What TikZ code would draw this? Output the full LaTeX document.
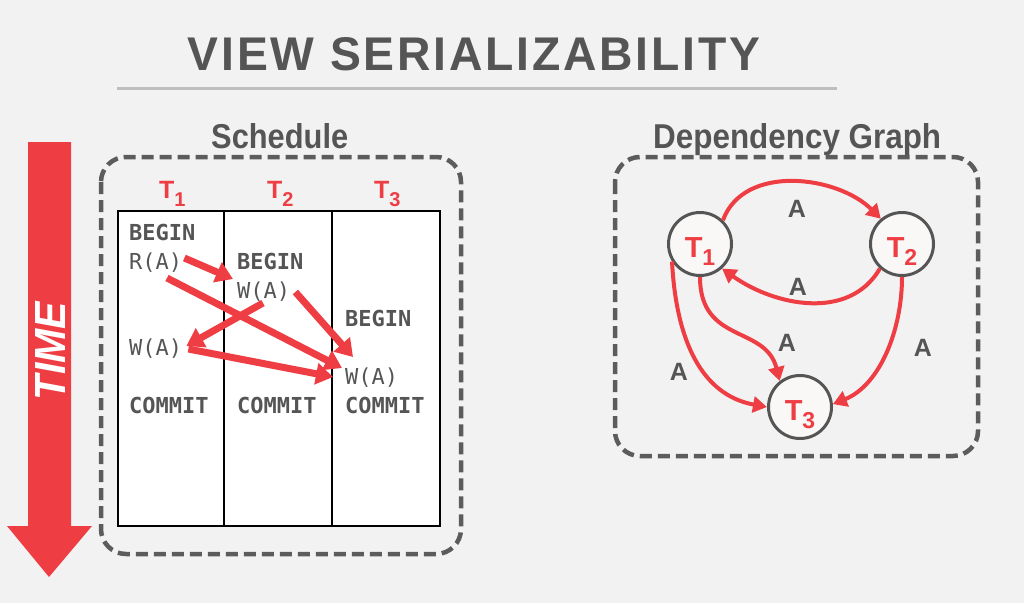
\documentclass[tikz,border=0pt]{standalone}
\usepackage{fontspec}
\setmainfont{Liberation Sans}
\newfontfamily\opfont{DejaVu Sans Mono}
\newfontfamily\spacedfont[LetterSpace=6]{Liberation Sans}
\usetikzlibrary{arrows.meta,calc}

\definecolor{slred}{RGB}{238,62,68}
\definecolor{ink}{RGB}{85,85,85}
\definecolor{frame}{RGB}{92,92,92}
\definecolor{rulegray}{RGB}{190,190,190}
\definecolor{paper}{RGB}{242,242,242}
\definecolor{bubble}{RGB}{250,248,246}

% T with a lowered index: #1 index, #2 drop, #3 index size
\newcommand{\tname}[3]{T\raisebox{-#2}{\fontsize{#3}{#3}\selectfont #1}}

\begin{document}
\begin{tikzpicture}[x=1pt,y=-1pt,
  dashbox/.style={draw=frame, line width=4.5pt, dash pattern=on 12pt off 6pt, rounded corners=25pt},
  op/.style={anchor=base west, inner sep=0pt, text=ink, font=\opfont\fontsize{22}{22}\selectfont},
  kw/.style={op, font=\opfont\bfseries\fontsize{22}{22}\selectfont},
  flow/.style={draw=slred, line width=7pt, -{Triangle[length=17pt,width=21pt]}},
  edge/.style={draw=slred, line width=4pt, -{Triangle[length=14pt,width=16pt]}},
  vertex/.style={circle, draw=ink, line width=3pt, fill=bubble, minimum size=63pt, inner sep=0pt,
                 text=slred, font=\bfseries\fontsize{29}{29}\selectfont},
  elabel/.style={text=ink, inner sep=0pt, font=\bfseries\fontsize{25}{25}\selectfont},
  heading/.style={anchor=base west, inner sep=0pt, text=ink, font=\bfseries},
  thead/.style={anchor=base west, inner sep=0pt, text=slred, font=\bfseries\fontsize{25}{25}\selectfont}
]
\fill[paper] (0,0) rectangle (1024,603);
\useasboundingbox (0,0) rectangle (1024,603);

% title and rule
\node[anchor=base, inner sep=0pt, text=ink] (title) at (474,70)
  {\resizebox{572pt}{33pt}{\bfseries\spacedfont VIEW SERIALIZABILITY}};
\draw[rulegray, line width=3pt] (117,88) -- (837,88);

% section headings
\node[heading] (hsched) at (211,148) {\resizebox{137pt}{25pt}{Schedule}};
\node[heading] (hgraph) at (653,148) {\resizebox{288pt}{25pt}{Dependency Graph}};

% time arrow
\fill[slred] (28,142) -- (71,142) -- (71,526) -- (92,526) -- (49,577) -- (7,526) -- (28,526) -- cycle;
\node[rotate=90, inner sep=0pt, text=white] (time) at (50,351)
  {\resizebox{98pt}{30pt}{\bfseries\itshape TIME}};

% schedule frame and table
\draw[dashbox] (101,157) rectangle (461,554);
\draw[fill=white, line width=1.2pt] (118,211) rectangle (440,526);
\draw[line width=1.2pt] (224,211) -- (224,526) (332,211) -- (332,526);

\node[thead] (h1) at (159,198) {\tname{1}{8pt}{20}};
\node[thead] (h2) at (267,198) {\tname{2}{8pt}{20}};
\node[thead] (h3) at (374,198) {\tname{3}{8pt}{20}};

\node[kw] (b1) at (129,240) {BEGIN};
\node[op] (r1) at (129,269) {R(A)};
\node[kw] (b2) at (237,269) {BEGIN};
\node[op] (w2) at (237,298) {W(A)};
\node[kw] (b3) at (345,326) {BEGIN};
\node[op] (w1) at (129,355) {W(A)};
\node[op] (w3) at (345,384) {W(A)};
\node[kw] (c1) at (129,413) {COMMIT};
\node[kw] (c2) at (237,413) {COMMIT};
\node[kw] (c3) at (345,413) {COMMIT};

\draw[flow] ($(r1.base east)+(2,-11)$) -- ($(w2.base west)+(-4,-19)$);
\draw[flow] ($(r1.base west)+(38,9)$) -- ($(w3.base west)+(-3,-16)$);
\draw[flow] ($(w2.base west)+(26,5)$) -- ($(w1.base east)+(4,-9)$);
\draw[flow] ($(w2.base east)+(5,-6)$) -- ($(w3.base west)+(8,-27)$);
\draw[flow] ($(w1.base east)+(6,-6)$) -- ($(w3.base west)+(-12,-7)$);

% dependency graph
\draw[dashbox] (615,157) rectangle (978,456);

\node[vertex] (g1) at (700,244) {\raisebox{-13pt}[0pt][0pt]{\tname{1}{8pt}{23}}};
\node[vertex] (g2) at (902,244) {\raisebox{-13pt}[0pt][0pt]{\tname{2}{8pt}{23}}};
\node[vertex] (g3) at (800,407) {\raisebox{-13pt}[0pt][0pt]{\tname{3}{8pt}{23}}};

\draw[edge] (g1.46) .. controls +(21,-57) and +(-43,-43) .. (g2.130);
\draw[edge] (g2.228) .. controls +(-31,53) and +(52,37) .. (g1.312);
\draw[edge] (g1.270) .. controls +(0,67) and +(-14,-56) .. (g3.128);
\draw[edge] (g1.212) .. controls +(4,78) and +(-66,-12) .. (g3.180);
\draw[edge] (g2.270) .. controls +(0,53) and +(47,-19) .. (g3.5);

\node[elabel] (a12) at (797,209) {A};
\node[elabel] (a21) at (798,287) {A};
\node[elabel] (a13) at (787,343) {A};
\node[elabel] (a13o) at (679,372) {A};
\node[elabel] (a23) at (923,348) {A};
\end{tikzpicture}
\end{document}
